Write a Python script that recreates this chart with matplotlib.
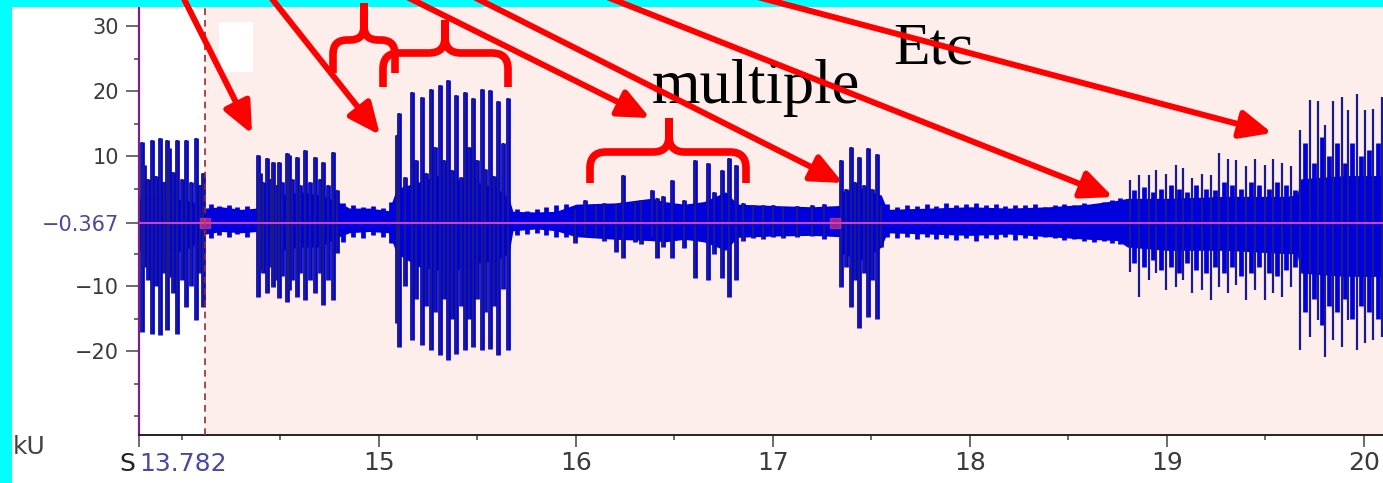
import numpy as np
import matplotlib
matplotlib.use("Agg")
import matplotlib.pyplot as plt
from matplotlib.patches import Rectangle, FancyArrowPatch, PathPatch
from matplotlib.path import Path

W, H = 1383, 483

PINK = "#FDEEEC"
CYAN = "#00FFFF"
RED = "#FF0000"
BODY_BLUE = "#0000DD"
SPIKE_BLUE = "#1A1A8C"
LABEL_GREY = "#3A3A3A"
LABEL_BLUE = "#4848A8"

X_START = 13.782
CURSOR_T = 14.117
BASELINE = -0.367
MARKER_T = [14.117, 17.315]

# dense body of the trace (time s, upper kU, lower kU)
env_t = [13.782, 13.85, 13.95, 14.05, 14.12, 14.20, 14.30, 14.38, 14.39, 14.50,
         14.60, 14.70, 14.79, 14.85, 14.95, 15.05, 15.09, 15.20, 15.30, 15.40,
         15.50, 15.60, 15.66, 15.68, 15.80, 15.90, 16.00, 16.20, 16.38, 16.45,
         16.55, 16.65, 16.76, 16.82, 17.00, 17.20, 17.34, 17.35, 17.45, 17.55,
         17.58, 17.80, 18.00, 18.20, 18.40, 18.60, 18.75, 18.80, 19.00, 19.30,
         19.60, 19.66, 19.68, 19.90, 20.10]
env_hi = [3.5, 4.0, 3.5, 3.0, 2.0, 2.2, 1.8, 2.0, 4.5, 4.0,
          4.5, 4.0, 3.0, 2.0, 2.0, 1.6, 5.0, 6.0, 7.0, 6.5,
          6.0, 5.0, 3.5, 1.5, 1.4, 1.5, 2.6, 2.8, 3.5, 3.0,
          2.6, 3.0, 4.5, 2.6, 2.4, 2.2, 2.4, 4.5, 5.0, 4.0,
          1.8, 2.0, 2.2, 2.0, 2.2, 2.6, 3.2, 3.5, 3.5, 3.8,
          3.8, 4.0, 6.5, 7.0, 7.0]
env_lo = [-4.5, -5.5, -5.0, -4.0, -2.0, -1.6, -1.8, -1.6, -4.0, -4.5,
          -4.0, -4.0, -2.5, -1.8, -1.6, -1.8, -5.0, -7.0, -7.5, -7.5,
          -6.5, -6.0, -5.0, -1.5, -1.2, -1.5, -2.4, -2.8, -3.0, -3.2,
          -2.8, -3.2, -4.5, -2.5, -2.3, -2.2, -2.4, -5.0, -6.0, -4.0,
          -1.8, -2.0, -2.2, -2.0, -2.4, -2.8, -3.0, -4.0, -4.5, -4.5,
          -5.0, -5.0, -8.0, -8.5, -8.5]

# burst 1 (before the cursor)
b1_t = [13.796, 13.809, 13.83, 13.846, 13.87, 13.889, 13.91, 13.926, 13.936, 13.955,
        13.973, 14.0, 14.021, 14.045, 14.071, 14.09, 14.108]
b1_hi = [12.2, 8.6, 6.5, 12.5, 7.0, 12.8, 6.0, 12.5, 11.2, 7.5,
         12.5, 6.5, 12.5, 6.0, 12.8, 5.5, 7.4]
b1_lo = [-17.0, -7.0, -9.0, -17.3, -10.0, -17.5, -8.0, -16.8, -8.6, -11.0,
         -17.3, -9.0, -13.2, -10.0, -15.2, -8.0, -13.2]

# burst 2
b2_t = [14.385, 14.396, 14.41, 14.430, 14.45, 14.461, 14.475, 14.493, 14.51, 14.532,
        14.543, 14.56, 14.583, 14.60, 14.625, 14.65, 14.675, 14.70, 14.718, 14.74,
        14.768, 14.786]
b2_hi = [10.2, 7.4, 6.0, 9.7, 6.5, 9.1, 5.5, 9.1, 6.0, 10.5,
         10.2, 6.5, 9.8, 5.5, 10.9, 6.0, 9.8, 6.5, 9.1, 5.5,
         10.6, 4.8]
b2_lo = [-11.6, -7.5, -8.0, -11.1, -7.0, -10.1, -9.0, -11.8, -8.5, -12.4,
         -10.6, -9.0, -11.6, -8.0, -12.2, -9.0, -11.1, -8.0, -12.9, -9.0,
         -12.2, -4.9]

# burst 3
b3_t = [15.090, 15.103, 15.13, 15.166, 15.19, 15.217, 15.24, 15.264, 15.285, 15.310,
        15.33, 15.352, 15.37, 15.391, 15.415, 15.437, 15.455, 15.479, 15.50, 15.522,
        15.54, 15.564, 15.585, 15.606, 15.63, 15.657]
b3_hi = [13.2, 16.6, 6.8, 19.9, 9.4, 19.1, 7.4, 20.3, 11.4, 20.9,
         9.4, 21.7, 7.8, 19.4, 6.8, 19.9, 11.4, 18.9, 9.4, 20.3,
         8.0, 20.2, 7.0, 18.4, 12.0, 18.9]
b3_lo = [-15.7, -19.3, -10.0, -18.3, -12.0, -19.1, -13.0, -19.8, -14.0, -20.6,
         -12.0, -21.4, -15.0, -20.4, -13.0, -19.8, -15.0, -19.3, -12.0, -19.8,
         -14.0, -19.6, -13.0, -20.6, -10.5, -19.8]

# "multiple" region
mu_t = [15.995, 16.046, 16.10, 16.14, 16.203, 16.240, 16.30, 16.33, 16.384, 16.410,
        16.44, 16.486, 16.55, 16.604, 16.672, 16.70, 16.740, 16.778, 16.813, 16.85,
        16.90, 16.95, 17.0, 17.05, 17.12, 17.2, 17.26]
mu_hi = [1.8, 3.2, 2.5, 2.8, 2.5, 7.1, 3.0, 3.3, 4.8, 3.5,
         3.8, 6.3, 3.3, 9.4, 8.9, 4.5, 7.8, 9.7, 8.6, 2.8,
         2.5, 2.4, 2.5, 2.2, 2.3, 2.4, 2.6]
mu_lo = [-3.4, -2.2, -2.5, -3.0, -4.7, -5.7, -3.2, -3.5, -2.5, -5.7,
         -4.0, -5.7, -4.2, -8.8, -9.1, -5.0, -8.8, -11.6, -9.1, -3.0,
         -2.6, -2.8, -2.4, -2.6, -2.5, -2.3, -2.8]

# burst 5
b5_t = [17.345, 17.37, 17.394, 17.415, 17.438, 17.46, 17.484, 17.505, 17.530, 17.55]
b5_hi = [9.4, 5.0, 11.4, 6.0, 9.9, 5.5, 11.2, 5.0, 10.3, 2.5]
b5_lo = [-10.1, -7.0, -13.2, -9.0, -16.5, -8.0, -14.7, -9.0, -15.0, -4.0]

# burst 7 and 8 (right end)
b7_t = [18.812, 18.860, 18.910, 18.944, 18.995, 19.046, 19.080, 19.126, 19.176, 19.224,
        19.266, 19.308, 19.350, 19.401, 19.447, 19.498, 19.537, 19.583, 19.630, 19.676,
        19.727, 19.769, 19.803, 19.845, 19.887, 19.921, 19.963, 20.005, 20.048, 20.090]
b7_hi = [6.3, 7.1, 7.1, 7.8, 7.3, 8.6, 8.1, 6.6, 7.3, 7.1,
         10.4, 9.6, 9.4, 8.4, 9.6, 8.6, 9.6, 8.9, 8.4, 14.0,
         18.6, 18.4, 14.8, 18.4, 19.1, 17.1, 19.6, 17.1, 17.3, 19.1]
b7_lo = [-7.8, -11.6, -9.1, -8.0, -10.6, -10.1, -9.1, -11.1, -10.6, -12.2,
         -10.1, -11.1, -9.8, -12.2, -10.6, -12.2, -11.1, -11.6, -10.1, -19.8,
         -17.8, -15.2, -20.9, -18.3, -19.4, -15.2, -19.8, -18.8, -18.3, -17.8]
b7s_t = [18.835, 18.885, 18.93, 18.97, 19.02, 19.06, 19.10, 19.15, 19.20, 19.245,
         19.29, 19.33, 19.375, 19.425, 19.47, 19.52, 19.56, 19.605, 19.65,
         19.70, 19.745, 19.785, 19.825, 19.865, 19.905, 19.94, 19.985, 20.025, 20.07]
b7s_hi = [4.8, 5.2, 4.5, 5.0, 5.5, 5.0, 4.5, 5.5, 5.0, 4.8,
          6.0, 5.5, 5.0, 6.0, 5.5, 5.0, 6.0, 5.5, 4.8,
          12.0, 9.0, 13.0, 10.0, 12.0, 9.0, 12.0, 10.0, 11.0, 12.0]
b7s_lo = [-6.5, -7.0, -6.0, -7.5, -7.0, -8.0, -6.5, -7.5, -8.0, -7.0,
          -8.0, -7.0, -8.5, -8.0, -7.0, -8.0, -8.5, -7.5, -7.0,
          -14.0, -12.0, -16.0, -13.0, -14.0, -12.0, -15.0, -13.0, -14.0, -15.0]

# small noise spikes in the quiet stretches
nz_t = [14.15, 14.19, 14.24, 14.28, 14.33, 14.82, 14.87, 14.92, 14.97, 15.02, 15.06,
        15.70, 15.75, 15.80, 15.85, 15.90, 15.95,
        17.58, 17.63, 17.68, 17.73, 17.78, 17.83, 17.88, 17.93, 17.98, 18.03, 18.08,
        18.13, 18.18, 18.23, 18.28, 18.33, 18.38, 18.43, 18.48, 18.53, 18.58, 18.63,
        18.68, 18.72, 18.76]
nz_hi = [2.6, 2.3, 2.5, 2.1, 2.3, 2.8, 2.4, 2.2, 2.3, 2.0, 3.0,
         1.8, 1.6, 1.8, 2.2, 2.5, 2.6,
         2.6, 2.2, 2.4, 2.3, 2.6, 2.3, 2.8, 2.4, 2.6, 2.8, 2.4,
         2.6, 2.3, 2.5, 2.4, 2.6, 2.2, 2.4, 2.6, 2.5, 2.8, 2.6,
         3.0, 3.2, 3.6]
nz_lo = [-2.6, -2.2, -2.4, -2.0, -2.5, -3.2, -2.4, -2.6, -2.2, -2.4, -3.4,
         -2.2, -2.0, -1.8, -2.2, -2.5, -2.4,
         -2.4, -2.6, -2.4, -2.8, -2.5, -2.7, -2.6, -2.9, -2.6, -3.0, -2.6,
         -2.8, -2.5, -2.9, -2.6, -2.8, -2.5, -2.6, -2.9, -2.7, -3.0, -3.2,
         -3.0, -3.4, -3.6]

y_major = [30, 20, 10, BASELINE, -10, -20]
y_major_labels = ["30", "20", "10", "\u22120.367", "\u221210", "\u221220"]
y_minor = [25, 15, 5, -5, -15, -25, -30]
x_major = [X_START, 15, 16, 17, 18, 19, 20]
x_major_labels = ["", "15", "16", "17", "18", "19", "20"]
x_minor = [14, 14.5, 15.5, 16.5, 17.5, 18.5, 19.5]


def brace(x0, x1, xc, yb, yh, yp, r):
    verts = [(x0, yb), (x0, yh + r), (x0, yh), (x0 + r, yh), (xc - r, yh),
             (xc, yh), (xc, yh - r), (xc, yp),
             (x1, yb), (x1, yh + r), (x1, yh), (x1 - r, yh), (xc + r, yh),
             (xc, yh), (xc, yh - r), (xc, yp)]
    codes = [Path.MOVETO, Path.LINETO, Path.CURVE3, Path.CURVE3, Path.LINETO,
             Path.CURVE3, Path.CURVE3, Path.LINETO] * 2
    return Path(verts, codes)


fig = plt.figure(figsize=(W / 100, H / 100), dpi=100)
fig.patch.set_facecolor("white")
ax = fig.add_axes([139 / W, 1 - 435 / H, 1 - 139 / W, 435 / H])
ax.set_facecolor(PINK)
ax.set_xlim(X_START, 20.097)
ax.set_ylim(-32.9, 34.0)
ax.axvspan(X_START, CURSOR_T, color="white", lw=0, zorder=0)

# trace
ax.fill_between(env_t, env_lo, env_hi, color=BODY_BLUE, lw=0, zorder=2)
for ts, hs, ls in [(b1_t, b1_hi, b1_lo), (b2_t, b2_hi, b2_lo), (b3_t, b3_hi, b3_lo),
                   (mu_t, mu_hi, mu_lo), (b5_t, b5_hi, b5_lo), (b7s_t, b7s_hi, b7s_lo),
                   (nz_t, nz_hi, nz_lo)]:
    ax.vlines(ts, ls, hs, color=BODY_BLUE, lw=3.4, zorder=2)
for ts, hs, ls in [(b1_t, b1_hi, b1_lo), (b2_t, b2_hi, b2_lo), (b3_t, b3_hi, b3_lo),
                   (mu_t, mu_hi, mu_lo), (b5_t, b5_hi, b5_lo), (b7_t, b7_hi, b7_lo)]:
    ax.vlines(ts, ls, hs, color=SPIKE_BLUE, lw=1.6, zorder=3)

ax.axhline(BASELINE, color="#D63CD6", lw=1.4, zorder=4)
ax.axvline(CURSOR_T, color="#A0282A", lw=1.2, ls=(0, (4, 3)), zorder=4)
ax.plot(MARKER_T, [BASELINE] * len(MARKER_T), ls="none", marker="s", ms=6.5,
        color="#E8407A", alpha=0.6, zorder=5)

# axes styling
for side in ["top", "right"]:
    ax.spines[side].set_visible(False)
ax.spines["left"].set_color("#7B1F8F")
ax.spines["left"].set_linewidth(1.6)
ax.spines["bottom"].set_color("#222222")
ax.spines["bottom"].set_linewidth(1.4)

ax.set_yticks(y_major)
ax.set_yticklabels(y_major_labels)
ax.set_yticks(y_minor, minor=True)
ax.set_xticks(x_major)
ax.set_xticklabels(x_major_labels)
ax.set_xticks(x_minor, minor=True)
ax.tick_params(axis="y", which="major", length=9.4, width=1.1, color="#444444",
               pad=5, labelsize=15, labelcolor=LABEL_GREY)
ax.tick_params(axis="y", which="minor", length=3.6, width=1.1, color="#444444")
ax.tick_params(axis="x", which="major", length=8.6, width=1.1, color="#444444",
               pad=3, labelsize=18, labelcolor=LABEL_GREY)
ax.tick_params(axis="x", which="minor", length=3.6, width=1.1, color="#444444")
ax.get_yticklabels()[3].set_color(LABEL_BLUE)

# overlay in pixel coordinates for the slide annotations
ov = fig.add_axes([0, 0, 1, 1], facecolor="none")
ov.set_xlim(0, W)
ov.set_ylim(H, 0)
ov.axis("off")

ov.add_patch(Rectangle((0, 0), 12, H, color=CYAN, lw=0, zorder=1))
ov.add_patch(Rectangle((0, 0), W, 7, color=CYAN, lw=0, zorder=1))
ov.add_patch(Rectangle((219, 22), 34, 50, color="white", lw=0, zorder=1))

ov.text(135, 464, "S", fontsize=18, color="#222222", ha="right", va="center")
ov.text(139, 464, "13.782", fontsize=18, color=LABEL_BLUE, ha="left", va="center")
ov.text(13, 447, "kU", fontsize=18, color="#444444", ha="left", va="center")

ov.text(652, 103, "multiple", fontsize=45, family="Liberation Serif",
        color="black", va="baseline", ha="left", zorder=2)
ov.text(893, 63, "Etc", fontsize=43, family="Liberation Serif",
        color="black", va="baseline", ha="left", zorder=2)

arrows = [((182, -5), (252, 134)), ((269, -5), (380, 135)), ((403, -5), (650, 118)),
          ((470, -5), (843, 183)), ((602, -5), (1113, 197)), ((750, -5), (1272, 133))]
for start, end in arrows:
    ov.add_patch(FancyArrowPatch(start, end,
                                 arrowstyle="-|>,head_length=1.9,head_width=0.85",
                                 mutation_scale=10, lw=4.3, color=RED,
                                 shrinkA=0, shrinkB=0, zorder=3))

for args in [(333, 395, 364, 73, 40, 3, 14), (383, 508, 445, 87, 53, 20, 16),
             (590, 746, 669, 183, 152, 118, 16)]:
    ov.add_patch(PathPatch(brace(*args), fill=False, edgecolor=RED, lw=5.5,
                           capstyle="butt", zorder=3))

fig.savefig("out.png", dpi=100)
